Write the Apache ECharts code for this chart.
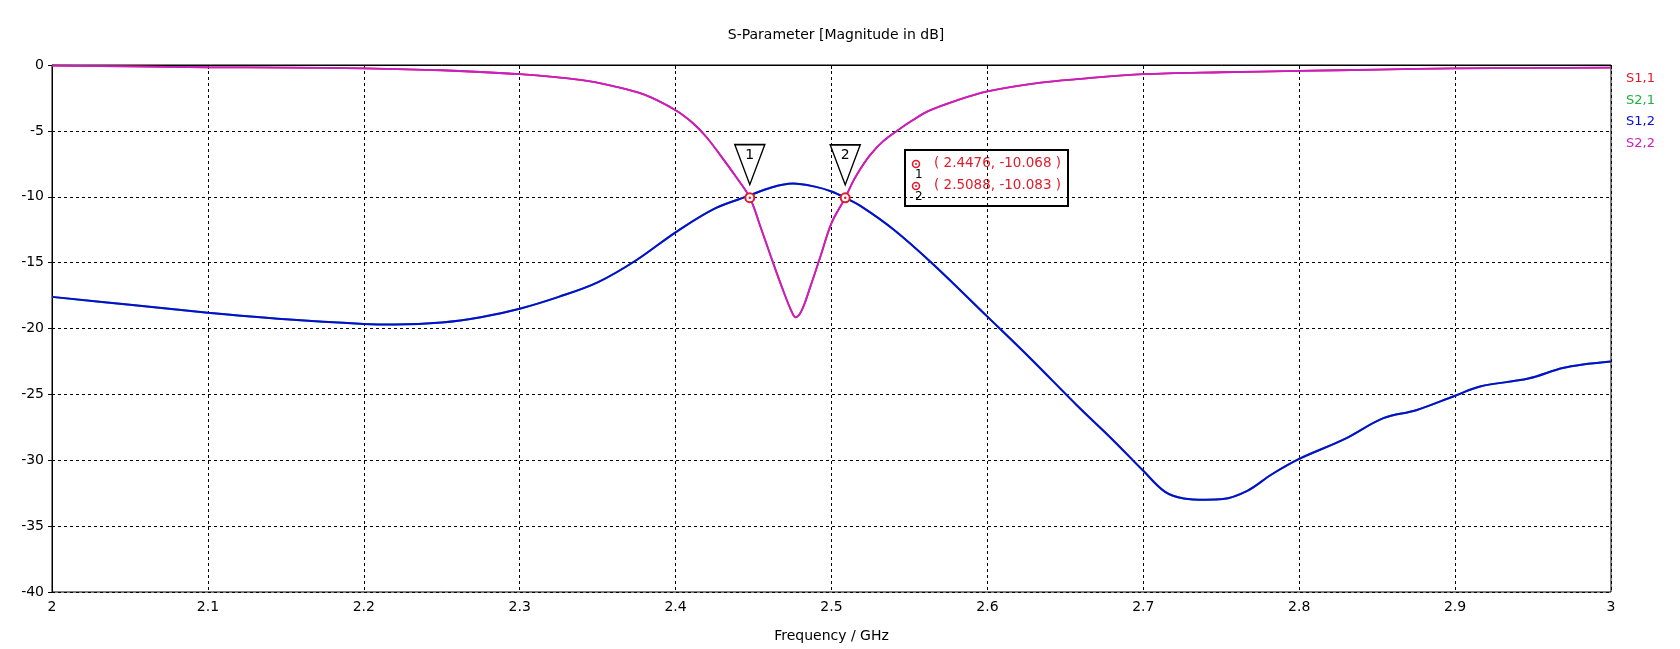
<!DOCTYPE html>
<html>
<head>
<meta charset="utf-8">
<script src="https://cdn.jsdelivr.net/npm/echarts@6/dist/echarts.min.js"></script>
<style>
html,body{margin:0;padding:0;background:#fff;}
#c{width:1680px;height:649px;}
</style>
</head>
<body>
<div id="c"></div>
<script>
// ---- data ----
const xTicks = [2, 2.1, 2.2, 2.3, 2.4, 2.5, 2.6, 2.7, 2.8, 2.9, 3];
const yTicks = [-40, -35, -30, -25, -20, -15, -10, -5, 0];

const freqS22 = [2.0, 2.05, 2.1, 2.15, 2.2, 2.25, 2.3, 2.34, 2.36, 2.38, 2.4, 2.411, 2.42, 2.429, 2.4385, 2.4476, 2.4545, 2.461, 2.468, 2.474, 2.477, 2.481, 2.4865, 2.493, 2.5, 2.5088, 2.514, 2.519, 2.525, 2.533, 2.542, 2.552, 2.562, 2.58, 2.6, 2.633, 2.66, 2.7, 2.75, 2.8, 2.85, 2.9, 2.95, 3.0];
const valS22  = [-0.05, -0.1, -0.17, -0.2, -0.25, -0.4, -0.7, -1.15, -1.6, -2.25, -3.43, -4.4, -5.5, -6.9, -8.45, -10.068, -12.3, -14.5, -16.8, -18.6, -19.15, -18.6, -16.8, -14.5, -12.0, -10.083, -8.8, -7.8, -6.8, -5.8, -5.0, -4.2, -3.5, -2.7, -2.0, -1.35, -1.05, -0.7, -0.55, -0.45, -0.35, -0.25, -0.22, -0.2];

const freqS12 = [2.0, 2.05, 2.1, 2.15, 2.2, 2.22, 2.25, 2.275, 2.3, 2.325, 2.35, 2.375, 2.4, 2.425, 2.4476, 2.46, 2.475, 2.49, 2.5, 2.5088, 2.52, 2.54, 2.565, 2.6, 2.627, 2.658, 2.68, 2.7, 2.714, 2.726, 2.74, 2.751, 2.767, 2.782, 2.8, 2.829, 2.854, 2.875, 2.9, 2.916, 2.947, 2.969, 2.984, 3.0];
const valS12  = [-17.6, -18.2, -18.8, -19.3, -19.65, -19.7, -19.55, -19.15, -18.5, -17.6, -16.5, -14.8, -12.7, -10.9, -9.9, -9.35, -9.0, -9.25, -9.6, -10.08, -10.8, -12.5, -15.1, -19.1, -22.2, -25.9, -28.4, -30.8, -32.4, -32.9, -33.0, -32.95, -32.3, -31.1, -29.9, -28.4, -26.8, -26.2, -25.1, -24.4, -23.8, -23.0, -22.7, -22.5];

const markerFreq = [2.4476, 2.5088];
const markerVal  = [-10.068, -10.083];

const seriesNames = ['S1,1', 'S2,1', 'S1,2', 'S2,2'];
const seriesColors = ['#e01b2a', '#20b040', '#0a0ad8', '#c81ec8'];

// ---- build ----
const zip = (a, b) => a.map((x, i) => [x, b[i]]);
const s22 = zip(freqS22, valS22);
const s12 = zip(freqS12, valS12);
const seriesData = [s22, s12, s12, s22];
const markers = zip(markerFreq, markerVal);
const FONT = 'DejaVu Sans';

const chart = echarts.init(document.getElementById('c'), null, {renderer: 'canvas'});

const lineSeries = seriesNames.map((n, i) => ({
  name: n,
  type: 'line',
  data: seriesData[i],
  showSymbol: false,
  smooth: 0.35,
  lineStyle: {color: seriesColors[i], width: (i % 3 === 0) ? 1.8 : 2},
  itemStyle: {color: seriesColors[i]},
  z: 2 + i
}));

const boxLeft = 904, boxTop = 149;
const boxChildren = [
  {type: 'rect', shape: {x: 0, y: 0, width: 163, height: 56}, style: {fill: '#fff', stroke: '#000', lineWidth: 2}}
];
markers.forEach((m, i) => {
  const yy = 15 + i * 22;
  boxChildren.push({type: 'circle', shape: {cx: 11, cy: yy - 1, r: 3.5}, style: {fill: '#fff', stroke: '#e01b2a', lineWidth: 1.6}});
  boxChildren.push({type: 'circle', shape: {cx: 11, cy: yy - 1, r: 1}, style: {fill: '#e01b2a'}});
  boxChildren.push({type: 'text', x: 10, y: yy + 4, style: {text: String(i + 1), fill: '#000', font: '12px ' + FONT}});
  boxChildren.push({type: 'text', x: 29, y: yy - 9, style: {text: '( ' + m[0].toFixed(4) + ', ' + m[1].toFixed(3) + ' )', fill: '#e01b2a', font: '13.5px ' + FONT}});
});

chart.setOption({
  animation: false,
  backgroundColor: '#fff',
  title: {
    text: 'S-Parameter [Magnitude in dB]',
    left: 831, top: 23, textAlign: 'center',
    textStyle: {fontFamily: FONT, fontSize: 14, fontWeight: 'normal', color: '#000'}
  },
  legend: {
    orient: 'vertical',
    left: 1621, top: 72,
    padding: 0,
    itemGap: 8,
    itemWidth: 0,
    itemHeight: 14,
    icon: 'none',
    selectedMode: false,
    data: seriesNames.map((n, i) => ({name: n, textStyle: {color: seriesColors[i]}})),
    textStyle: {fontFamily: FONT, fontSize: 13}
  },
  grid: {
    left: 52, right: 69, top: 65, bottom: 57,
    containLabel: false,
    show: true, borderColor: '#000', borderWidth: 1, backgroundColor: '#fff'
  },
  xAxis: {
    type: 'value', min: 2, max: 3, interval: 0.1,
    name: 'Frequency / GHz', nameLocation: 'middle', nameGap: 37,
    nameTextStyle: {fontFamily: FONT, fontSize: 14, color: '#000'},
    axisLine: {lineStyle: {color: '#000', width: 1}},
    axisTick: {show: true, length: 4, lineStyle: {color: '#000'}},
    axisLabel: {fontFamily: FONT, fontSize: 14, color: '#000', margin: 8,
      formatter: v => String(Math.round(v * 10) / 10)},
    splitLine: {show: true, lineStyle: {color: '#000', width: 1, type: [3, 3]}}
  },
  yAxis: {
    type: 'value', min: -40, max: 0, interval: 5,
    axisLine: {show: true, lineStyle: {color: '#000', width: 1}},
    axisTick: {show: true, length: 4, lineStyle: {color: '#000'}},
    axisLabel: {fontFamily: FONT, fontSize: 14, color: '#000', margin: 8},
    splitLine: {show: true, lineStyle: {color: '#000', width: 1, type: [3, 3]}}
  },
  series: lineSeries.concat([
    {
      name: 'markerTri', type: 'scatter', data: markers,
      symbol: 'path://M0,0 L30,0 L15,40 Z', symbolSize: [30, 40], symbolOffset: [0, -33],
      itemStyle: {color: '#fff', borderColor: '#000', borderWidth: 1.5, opacity: 1},
      label: {show: true, position: 'inside', offset: [0, -9],
        formatter: p => String(p.dataIndex + 1),
        fontFamily: FONT, fontSize: 14, color: '#000'},
      z: 10, silent: true
    },
    {
      name: 'markerRing', type: 'scatter', data: markers,
      symbol: 'circle', symbolSize: 9,
      itemStyle: {color: '#fff', borderColor: '#e01b2a', borderWidth: 2, opacity: 1},
      z: 11, silent: true
    },
    {
      name: 'markerDot', type: 'scatter', data: markers,
      symbol: 'circle', symbolSize: 2.5,
      itemStyle: {color: '#e01b2a', opacity: 1},
      z: 12, silent: true
    }
  ]),
  graphic: [{type: 'group', left: boxLeft, top: boxTop, z: 20, children: boxChildren}]
});
</script>
</body>
</html>
